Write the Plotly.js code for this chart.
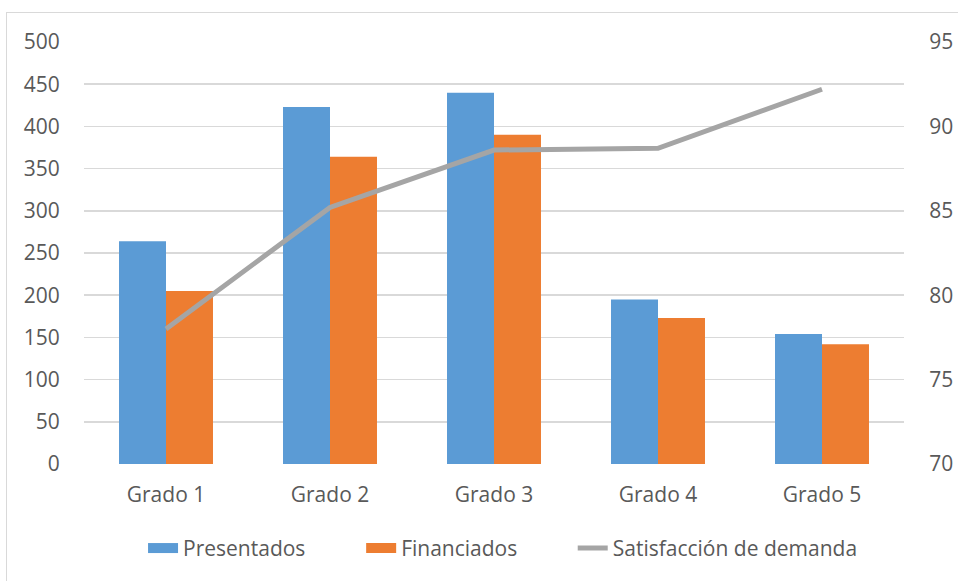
<!DOCTYPE html>
<html>
<head>
<meta charset="utf-8">
<script src="https://cdn.plot.ly/plotly-3.0.1.min.js"></script>
<style>
  html, body { margin: 0; padding: 0; background: #fff; }
  #frame { position: absolute; left: 6px; top: 12px; width: 960px; height: 580px; border: 1px solid #d9d9d9; box-sizing: border-box; }
  #chart { position: absolute; left: 0; top: 0; width: 958px; height: 581px; }
</style>
</head>
<body>
<div id="frame"></div>
<div id="chart"></div>
<script>
const categories = ["Grado 1", "Grado 2", "Grado 3", "Grado 4", "Grado 5"];
const presentados = [264, 423, 440, 195, 154];
const financiados = [205, 364, 390, 173, 142];
const satisfaccion = [78.0, 85.2, 88.6, 88.7, 92.2];
const leftTicks = [0, 50, 100, 150, 200, 250, 300, 350, 400, 450, 500];
const rightTicks = [70, 75, 80, 85, 90, 95];
const seriesNames = ["Presentados", "Financiados", "Satisfacción de demanda"];

const fontFam = "Open Sans, Noto Sans, sans-serif";
const txt = "#595959";
const FS = 21;

const traces = [
  { type: "bar", name: seriesNames[0], x: categories, y: presentados,
    marker: { color: "#5b9bd5" }, showlegend: false },
  { type: "bar", name: seriesNames[1], x: categories, y: financiados,
    marker: { color: "#ed7d31" }, showlegend: false },
  { type: "scatter", mode: "lines", name: seriesNames[2], x: categories, y: satisfaccion,
    yaxis: "y2", line: { color: "#a5a5a5", width: 5 }, showlegend: false },
  // legend-only entries (wide swatches like the original)
  { type: "scatter", mode: "lines", name: seriesNames[0], x: [null], y: [null],
    line: { color: "#5b9bd5", width: 14 }, hoverinfo: "skip", legend: "legend" },
  { type: "scatter", mode: "lines", name: seriesNames[1], x: [null], y: [null],
    line: { color: "#ed7d31", width: 14 }, hoverinfo: "skip", legend: "legend2" },
  { type: "scatter", mode: "lines", name: seriesNames[2], x: [null], y: [null],
    line: { color: "#a5a5a5", width: 5 }, hoverinfo: "skip", legend: "legend3" }
];

function leg(x) {
  return { orientation: "h", x: x, xanchor: "left", y: -0.2, yanchor: "middle",
           bgcolor: "rgba(0,0,0,0)",
           font: { family: fontFam, size: FS, color: txt } };
}

const layout = {
  width: 958, height: 581,
  margin: { l: 84, r: 54, t: 42, b: 115 },
  paper_bgcolor: "rgba(0,0,0,0)", plot_bgcolor: "rgba(0,0,0,0)",
  font: { family: fontFam, size: FS, color: txt },
  barmode: "group", bargap: 0.427, bargroupgap: 0,
  showlegend: true,
  legend: leg(0.072),
  legend2: leg(0.338),
  legend3: leg(0.596),
  xaxis: { type: "category", showgrid: false, showline: false, zeroline: false,
           ticks: "outside", ticklen: 12, tickcolor: "rgba(0,0,0,0)",
           tickfont: { family: fontFam, size: FS, color: txt } },
  yaxis: { range: [0, 500], tickmode: "array", tickvals: leftTicks, ticktext: leftTicks.map(String),
           showgrid: true, gridcolor: "#d9d9d9", gridwidth: 1.5, zeroline: false, showline: false,
           ticks: "outside", ticklen: 19, tickcolor: "rgba(0,0,0,0)",
           tickfont: { family: fontFam, size: FS, color: txt } },
  yaxis2: { overlaying: "y", side: "right", range: [70, 95], tickmode: "array",
            tickvals: rightTicks, ticktext: rightTicks.map(String),
            showgrid: false, zeroline: false, showline: false,
            ticks: "outside", ticklen: 20, tickcolor: "rgba(0,0,0,0)",
            tickfont: { family: fontFam, size: FS, color: txt } }
};

Plotly.newPlot("chart", traces, layout, { displayModeBar: false, staticPlot: true });
</script>
</body>
</html>
